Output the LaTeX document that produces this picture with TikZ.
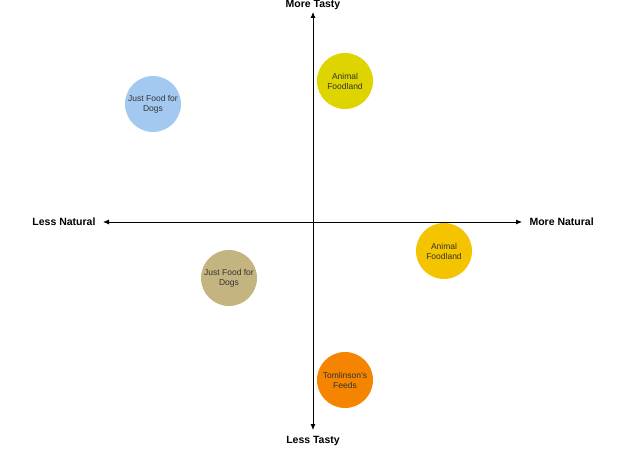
\documentclass[tikz,border=0pt]{standalone}
\usepackage{fontspec}
\setmainfont{Liberation Sans}
\usetikzlibrary{arrows.meta,positioning}

\definecolor{skyblue}{HTML}{A3C9F1}
\definecolor{mustard}{HTML}{DDD400}
\definecolor{gold}{HTML}{F5C400}
\definecolor{khaki}{HTML}{C4B47F}
\definecolor{tangerine}{HTML}{F58400}

\begin{document}
\begin{tikzpicture}[x=1pt, y=-1pt,
    brand/.style={circle, minimum size=56pt, inner sep=0pt, align=center,
        text=black!80, font=\fontsize{8.5}{10}\selectfont},
    axislabel/.style={font=\fontsize{10.5}{12}\selectfont\bfseries},
    axis/.style={line width=0.8pt, {Latex[length=6pt,width=5pt]}-{Latex[length=6pt,width=5pt]}}]
    \useasboundingbox (0,0) rectangle (621,454);

    % Axis end points
    \coordinate (L) at (103,222);
    \coordinate (R) at (522,222);
    \coordinate (T) at (313,12);
    \coordinate (B) at (313,430);

    % Draw the two axes
    \draw[axis] (L) -- (R);
    \draw[axis] (B) -- (T);

    % Label the axes
    \node[axislabel, left=4pt of L] (lessnat) {Less Natural};
    \node[axislabel, right=4pt of R] (morenat) {More Natural};
    \node[axislabel] (moretasty) at (313,5) {More Tasty};
    \node[axislabel] (lesstasty) at (313,441) {Less Tasty};

    % Place the brands
    \node[brand, fill=skyblue] (jffd1) at (153,104) {Just Food for\\Dogs};
    \node[brand, fill=mustard] (af1) at (345,81) {Animal\\Foodland};
    \node[brand, fill=gold] (af2) at (444,251) {Animal\\Foodland};
    \node[brand, fill=khaki] (jffd2) at (229,278) {Just Food for\\Dogs};
    \node[brand, fill=tangerine] (tf) at (345,380) {Tomlinson's\\Feeds};
\end{tikzpicture}
\end{document}
